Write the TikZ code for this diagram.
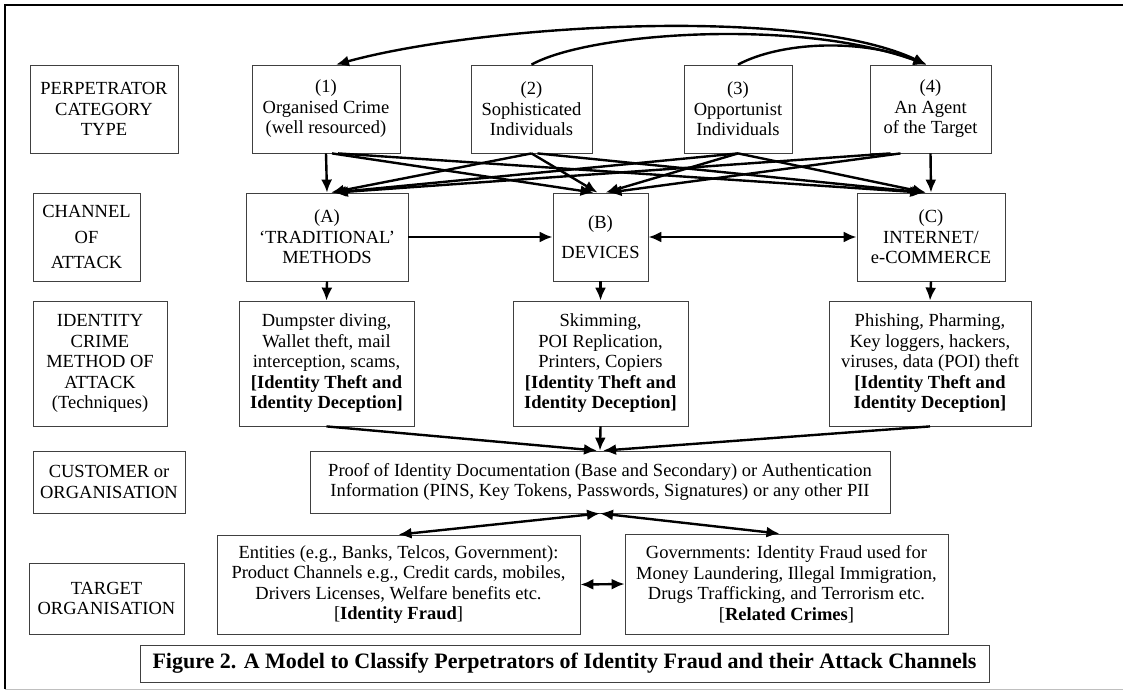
\documentclass[tikz,border=0pt]{standalone}
\usepackage{fontspec}
\setmainfont{Liberation Serif}
\usepackage{tikz}
\usetikzlibrary{arrows.meta}
\newcommand{\boxfont}{\fontsize{18.5}{20.5}\selectfont}
\tikzset{%
	box/.style      = {draw=black!75, line width=0.8pt, rectangle, align=center, inner sep=0pt, font=\boxfont},
	caption/.style  = {draw=black!75, line width=0.8pt, rectangle, inner sep=0pt, font=\fontsize{22}{24}\selectfont\bfseries},
	arrow/.style    = {line width=2.4pt, -{Latex[length=13pt,width=11pt]}},
	dblarrow/.style = {line width=2.4pt, {Latex[length=13pt,width=11pt]}-{Latex[length=13pt,width=11pt]}},
}
\begin{document}
\begin{tikzpicture}[x=1pt,y=-1pt]
	\useasboundingbox (0,0) rectangle (1123,691);
	\draw[line width=2.5pt] (1123,5) -- (5,5) -- (5,689);  % frame
	\draw[black!25] (5,689) -- (1123,689);
	% row labels
	\node[box, minimum width=148, minimum height=88] (typelbl) at (104,109) {PERPETRATOR\\CATEGORY\\TYPE};
	\node[box, minimum width=107, minimum height=88] (chanlbl) at (86.5,237) {CHANNEL\\[5pt]OF\\[5pt]ATTACK};
	\node[box, minimum width=134, minimum height=125] (methlbl) at (100,363.5) {IDENTITY\\CRIME\\METHOD OF\\ATTACK\\(Techniques)};
	\node[box, minimum width=152, minimum height=62] (custlbl) at (109,482) {CUSTOMER or\\ORGANISATION};
	\node[box, minimum width=155, minimum height=71] (targlbl) at (106.5,598.5) {TARGET\\ORGANISATION};
	% perpetrators
	\node[box, minimum width=148, minimum height=88] (p1) at (326,109) {(1)\\Organised Crime\\(well resourced)};
	\node[box, minimum width=121, minimum height=88] (p2) at (531.5,109) {(2)\\Sophisticated\\Individuals};
	\node[box, minimum width=108, minimum height=88] (p3) at (738,109) {(3)\\Opportunist\\Individuals};
	\node[box, minimum width=121, minimum height=88] (p4) at (930.5,109) {(4)\\An Agent\\of the Target};
	% channels
	\node[box, minimum width=162, minimum height=88] (cA) at (327,237) {(A)\\`TRADITIONAL'\\METHODS};
	\node[box, minimum width=95, minimum height=88] (cB) at (600.5,237) {(B)\\[10pt]DEVICES};
	\node[box, minimum width=148, minimum height=88] (cC) at (931,237) {(C)\\INTERNET/\\e-COMMERCE};
	% methods
	\node[box, minimum width=175, minimum height=125] (mA) at (326.5,363.5) {Dumpster diving,\\Wallet theft, mail\\interception, scams,\\\textbf{[Identity Theft and}\\\textbf{Identity Deception]}};
	\node[box, minimum width=175, minimum height=125] (mB) at (600.5,363.5) {Skimming,\\POI Replication,\\Printers, Copiers\\\textbf{[Identity Theft and}\\\textbf{Identity Deception]}};
	\node[box, minimum width=202, minimum height=125] (mC) at (930,363.5) {Phishing, Pharming,\\Key loggers, hackers,\\viruses, data (POI) theft\\\textbf{[Identity Theft and}\\\textbf{Identity Deception]}};
	% customer / target
	\node[box, minimum width=580, minimum height=62] (proof) at (600,482) {Proof of Identity Documentation (Base and Secondary) or Authentication\\Information (PINS, Key Tokens, Passwords, Signatures) or any other PII};
	\node[box, minimum width=363, minimum height=99] (ent) at (398.5,584.5) {Entities (e.g., Banks, Telcos, Government):\\Product Channels e.g., Credit cards, mobiles,\\Drivers Licenses, Welfare benefits etc.\\{[}\textbf{Identity Fraud}]};
	\node[box, minimum width=323, minimum height=100] (gov) at (786.5,584) {Governments: Identity Fraud used for\\Money Laundering, Illegal Immigration,\\Drugs Trafficking, and Terrorism etc.\\{[}\textbf{Related Crimes}]};
	\node[caption, minimum width=849, minimum height=37] (title) at (564.5,663.5) {Figure 2. A Model to Classify Perpetrators of Identity Fraud and their Attack Channels};
	% arcs over the top
	\draw[dblarrow] ([xshift=10pt]p1.north) .. controls (480,25) and (800,5) .. ([xshift=-4pt]p4.north);
	\draw[arrow] (p2.north) .. controls (590,32) and (800,18) .. ([xshift=-4pt]p4.north);
	\draw[arrow] (p3.north) .. controls (780,42) and (860,38) .. ([xshift=-4pt]p4.north);
	% perpetrators to channels
	\draw[arrow] (p1.south) -- (cA.north);
	\draw[arrow] ([xshift=6pt]p1.south) -- ([xshift=-7pt]cB.north);
	\draw[arrow] ([xshift=12pt]p1.south) -- ([xshift=-8pt]cC.north);
	\draw[arrow] (p2.south) -- ([xshift=4pt]cA.north);
	\draw[arrow] (p2.south) -- ([xshift=-3pt]cB.north);
	\draw[arrow] ([xshift=6pt]p2.south) -- ([xshift=-6pt]cC.north);
	\draw[arrow] (p3.south) -- ([xshift=6pt]cA.north);
	\draw[arrow] (p3.south) -- ([xshift=5pt]cB.north);
	\draw[arrow] (p3.south) -- ([xshift=-5pt]cC.north);
	\draw[arrow] ([xshift=-40pt]p4.south) -- ([xshift=8pt]cA.north);
	\draw[arrow] ([xshift=-30pt]p4.south) -- ([xshift=8pt]cB.north);
	\draw[arrow] (p4.south) -- (cC.north);
	% between channels
	\draw[arrow] (cA.east) -- (cB.west);
	\draw[dblarrow] (cB.east) -- (cC.west);
	% channels to methods
	\draw[arrow] (cA.south) -- (mA.north);
	\draw[arrow] (cB.south) -- (mB.north);
	\draw[arrow] (cC.south) -- (mC.north);
	% methods to documentation
	\draw[arrow] (mA.south) -- ([xshift=-3pt]proof.north);
	\draw[arrow] (mB.south) -- (proof.north);
	\draw[arrow] (mC.south) -- ([xshift=3pt]proof.north);
	% documentation to targets
	\draw[dblarrow] (proof.south) -- (ent.north);
	\draw[dblarrow] (proof.south) -- ([xshift=-7pt]gov.north);
	\draw[dblarrow] (ent.east) -- (gov.west);
\end{tikzpicture}
\end{document}
